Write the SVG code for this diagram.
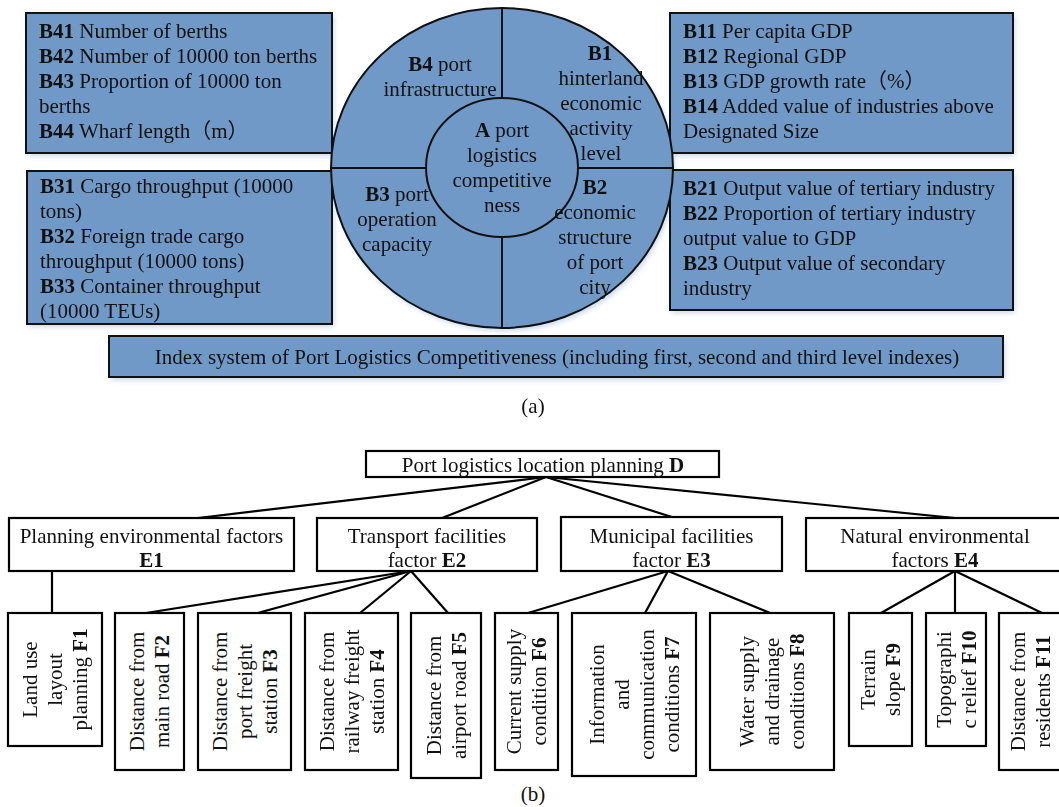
<svg xmlns="http://www.w3.org/2000/svg" width="1059" height="807" viewBox="0 0 1059 807">
<defs>
<filter id="blur" x="-10%" y="-20%" width="120%" height="140%">
<feGaussianBlur stdDeviation="2.5"/>
</filter>
<style>
text{font-family:"Liberation Serif","Times New Roman",serif;font-size:21px;fill:#111}
.cjk{font-family:"Liberation Serif","Noto Sans CJK SC",serif}
.b{font-weight:bold}
.c{text-anchor:middle}
.bx{fill:#7199c7;stroke:#111;stroke-width:2}
.sd{fill:#b4c8e2;opacity:0.7}
.wb{fill:#fff;stroke:#000;stroke-width:2.2}
.ln{stroke:#000;stroke-width:2.2;fill:none}
.cl{stroke:#111;stroke-width:2;fill:none}
</style>
</defs>
<rect width="1059" height="807" fill="#fff"/>

<!-- soft shadows of part (a) -->
<g id="shadows" filter="url(#blur)">
<rect class="sd" x="28" y="16" width="306" height="140"/>
<rect class="sd" x="29" y="174" width="305" height="153"/>
<rect class="sd" x="672" y="16" width="343" height="140"/>
<rect class="sd" x="672" y="173" width="343" height="140"/>
<ellipse class="sd" cx="504" cy="171" rx="171" ry="160"/>
<rect class="sd" x="111" y="339" width="894" height="41"/>
</g>

<!-- Part (a) -->
<g id="B4-box">
<rect class="bx" x="26" y="13" width="306" height="140"/>
<text x="39" y="38"><tspan class="b">B41</tspan> Number of berths</text>
<text x="39" y="63"><tspan class="b">B42</tspan> Number of 10000 ton berths</text>
<text x="39" y="88"><tspan class="b">B43</tspan> Proportion of 10000 ton</text>
<text x="39" y="113">berths</text>
<text class="cjk" x="39" y="138"><tspan class="b">B44</tspan> Wharf length（m）</text>
</g>
<g id="B3-box">
<rect class="bx" x="27" y="171" width="305" height="153"/>
<text x="40" y="193"><tspan class="b">B31</tspan> Cargo throughput (10000</text>
<text x="40" y="218">tons)</text>
<text x="40" y="243"><tspan class="b">B32</tspan> Foreign trade cargo</text>
<text x="40" y="268">throughput (10000 tons)</text>
<text x="40" y="293"><tspan class="b">B33</tspan> Container throughput</text>
<text x="40" y="318">(10000 TEUs)</text>
</g>
<g id="B1-box">
<rect class="bx" x="670" y="13" width="343" height="140"/>
<text x="683" y="38"><tspan class="b">B11</tspan> Per capita GDP</text>
<text x="683" y="63"><tspan class="b">B12</tspan> Regional GDP</text>
<text class="cjk" x="683" y="88"><tspan class="b">B13</tspan> GDP growth rate（%）</text>
<text x="683" y="113"><tspan class="b">B14</tspan> Added value of industries above</text>
<text x="683" y="138">Designated Size</text>
</g>
<g id="B2-box">
<rect class="bx" x="670" y="170" width="343" height="140"/>
<text x="683" y="195"><tspan class="b">B21</tspan> Output value of tertiary industry</text>
<text x="683" y="220"><tspan class="b">B22</tspan> Proportion of tertiary industry</text>
<text x="683" y="245">output value to GDP</text>
<text x="683" y="270"><tspan class="b">B23</tspan> Output value of secondary</text>
<text x="683" y="295">industry</text>
</g>

<g id="circle">
<ellipse class="bx" cx="502" cy="168" rx="171" ry="160"/>
<line class="cl" x1="502" y1="8" x2="502" y2="98"/>
<line class="cl" x1="502" y1="237" x2="502" y2="328"/>
<line class="cl" x1="331" y1="168" x2="426" y2="168"/>
<line class="cl" x1="578" y1="168" x2="673" y2="168"/>
<ellipse class="bx" cx="502" cy="167.5" rx="76" ry="69.5"/>
</g>
<g id="B4">
<text class="c" x="440" y="71"><tspan class="b">B4</tspan> port</text>
<text class="c" x="440" y="96">infrastructure</text>
</g>
<g id="B1">
<text class="c b" x="600" y="60">B1</text>
<text class="c" x="601" y="85">hinterland</text>
<text class="c" x="601" y="110">economic</text>
<text class="c" x="601" y="135">activity</text>
<text class="c" x="601" y="160">level</text>
</g>
<g id="A">
<text class="c" x="502" y="137"><tspan class="b">A</tspan> port</text>
<text class="c" x="502" y="162">logistics</text>
<text class="c" x="502" y="187">competitive</text>
<text class="c" x="502" y="212">ness</text>
</g>
<g id="B3">
<text class="c" x="397" y="201"><tspan class="b">B3</tspan> port</text>
<text class="c" x="397" y="226">operation</text>
<text class="c" x="397" y="251">capacity</text>
</g>
<g id="B2">
<text class="c b" x="595" y="194">B2</text>
<text class="c" x="595" y="219">economic</text>
<text class="c" x="595" y="244">structure</text>
<text class="c" x="595" y="269">of port</text>
<text class="c" x="595" y="294">city</text>
</g>
<g id="index-box">
<rect class="bx" x="109" y="336" width="894" height="41"/>
<text class="c" x="557" y="364">Index system of Port Logistics Competitiveness (including first, second and third level indexes)</text>
</g>
<text class="c" x="533" y="413">(a)</text>

<!-- Part (b) -->
<g id="connectors">
<line class="ln" x1="546" y1="477" x2="198" y2="518"/>
<line class="ln" x1="546" y1="477" x2="442" y2="518"/>
<line class="ln" x1="546" y1="477" x2="675" y2="518"/>
<line class="ln" x1="546" y1="477" x2="955" y2="518"/>
<line class="ln" x1="52" y1="571" x2="52" y2="613"/>
<line class="ln" x1="411" y1="571" x2="146" y2="613"/>
<line class="ln" x1="411" y1="571" x2="258" y2="613"/>
<line class="ln" x1="411" y1="571" x2="360" y2="613"/>
<line class="ln" x1="411" y1="571" x2="448" y2="613"/>
<line class="ln" x1="668" y1="571" x2="528" y2="613"/>
<line class="ln" x1="668" y1="571" x2="645" y2="613"/>
<line class="ln" x1="668" y1="571" x2="770" y2="613"/>
<line class="ln" x1="955" y1="571" x2="881" y2="613"/>
<line class="ln" x1="955" y1="571" x2="955" y2="613"/>
<line class="ln" x1="955" y1="571" x2="1042" y2="613"/>
</g>

<g id="D">
<rect class="wb" x="366" y="451" width="353" height="26"/>
<text class="c" x="543" y="472">Port logistics location planning <tspan class="b">D</tspan></text>
</g>
<g id="E1">
<rect class="wb" x="9" y="518" width="285" height="53"/>
<text class="c" x="151.5" y="543">Planning environmental factors</text>
<text class="c b" x="151.5" y="567">E1</text>
</g>
<g id="E2">
<rect class="wb" x="317" y="518" width="220" height="53"/>
<text class="c" x="427" y="543">Transport facilities</text>
<text class="c" x="427" y="567">factor <tspan class="b">E2</tspan></text>
</g>
<g id="E3">
<rect class="wb" x="561" y="517" width="221" height="54"/>
<text class="c" x="671.5" y="543">Municipal facilities</text>
<text class="c" x="671.5" y="567">factor <tspan class="b">E3</tspan></text>
</g>
<g id="E4">
<rect class="wb" x="806" y="518" width="262" height="53"/>
<text class="c" x="935" y="543">Natural environmental</text>
<text class="c" x="935" y="567">factors <tspan class="b">E4</tspan></text>
</g>

<g id="F1">
<rect class="wb" x="8" y="613" width="94" height="133"/>
<text class="c" transform="translate(55,679.5) rotate(-90)"><tspan x="0" y="-18">Land use</tspan><tspan x="0" y="7">layout</tspan><tspan x="0" y="32">planning <tspan class="b">F1</tspan></tspan></text>
</g>
<g id="F2">
<rect class="wb" x="115" y="613" width="69" height="157"/>
<text class="c" transform="translate(149.5,691.5) rotate(-90)"><tspan x="0" y="-5.5">Distance from</tspan><tspan x="0" y="19.5">main road <tspan class="b">F2</tspan></tspan></text>
</g>
<g id="F3">
<rect class="wb" x="198" y="613" width="93" height="157"/>
<text class="c" transform="translate(244.5,691.5) rotate(-90)"><tspan x="0" y="-18">Distance from</tspan><tspan x="0" y="7">port freight</tspan><tspan x="0" y="32">station <tspan class="b">F3</tspan></tspan></text>
</g>
<g id="F4">
<rect class="wb" x="305" y="613" width="93" height="157"/>
<text class="c" transform="translate(351.5,691.5) rotate(-90)"><tspan x="0" y="-18">Distance from</tspan><tspan x="0" y="7">railway freight</tspan><tspan x="0" y="32">station <tspan class="b">F4</tspan></tspan></text>
</g>
<g id="F5">
<rect class="wb" x="411" y="613" width="70" height="165"/>
<text class="c" transform="translate(446,695.5) rotate(-90)"><tspan x="0" y="-5.5">Distance from</tspan><tspan x="0" y="19.5">airport road <tspan class="b">F5</tspan></tspan></text>
</g>
<g id="F6">
<rect class="wb" x="495" y="613" width="63" height="157"/>
<text class="c" transform="translate(526.5,691.5) rotate(-90)"><tspan x="0" y="-5.5">Current supply</tspan><tspan x="0" y="19.5">condition <tspan class="b">F6</tspan></tspan></text>
</g>
<g id="F7">
<rect class="wb" x="572" y="613" width="124" height="163"/>
<text class="c" transform="translate(634,694.5) rotate(-90)"><tspan x="0" y="-30.5">Information</tspan><tspan x="0" y="-5.5">and</tspan><tspan x="0" y="19.5">communication</tspan><tspan x="0" y="44.5">conditions <tspan class="b">F7</tspan></tspan></text>
</g>
<g id="F8">
<rect class="wb" x="710" y="613" width="124" height="157"/>
<text class="c" transform="translate(772,691.5) rotate(-90)"><tspan x="0" y="-18">Water supply</tspan><tspan x="0" y="7">and drainage</tspan><tspan x="0" y="32">conditions <tspan class="b">F8</tspan></tspan></text>
</g>
<g id="F9">
<rect class="wb" x="849" y="613" width="63" height="133"/>
<text class="c" transform="translate(880.5,679.5) rotate(-90)"><tspan x="0" y="-5.5">Terrain</tspan><tspan x="0" y="19.5">slope <tspan class="b">F9</tspan></tspan></text>
</g>
<g id="F10">
<rect class="wb" x="926" y="613" width="60" height="133"/>
<text class="c" transform="translate(956,679.5) rotate(-90)"><tspan x="0" y="-5.5">Topographi</tspan><tspan x="0" y="19.5">c relief <tspan class="b">F10</tspan></tspan></text>
</g>
<g id="F11">
<rect class="wb" x="999" y="613" width="70" height="157"/>
<text class="c" transform="translate(1030.5,691.5) rotate(-90)"><tspan x="0" y="-5.5">Distance from</tspan><tspan x="0" y="19.5">residents <tspan class="b">F11</tspan></tspan></text>
</g>
<text class="c" x="533" y="801">(b)</text>
</svg>
